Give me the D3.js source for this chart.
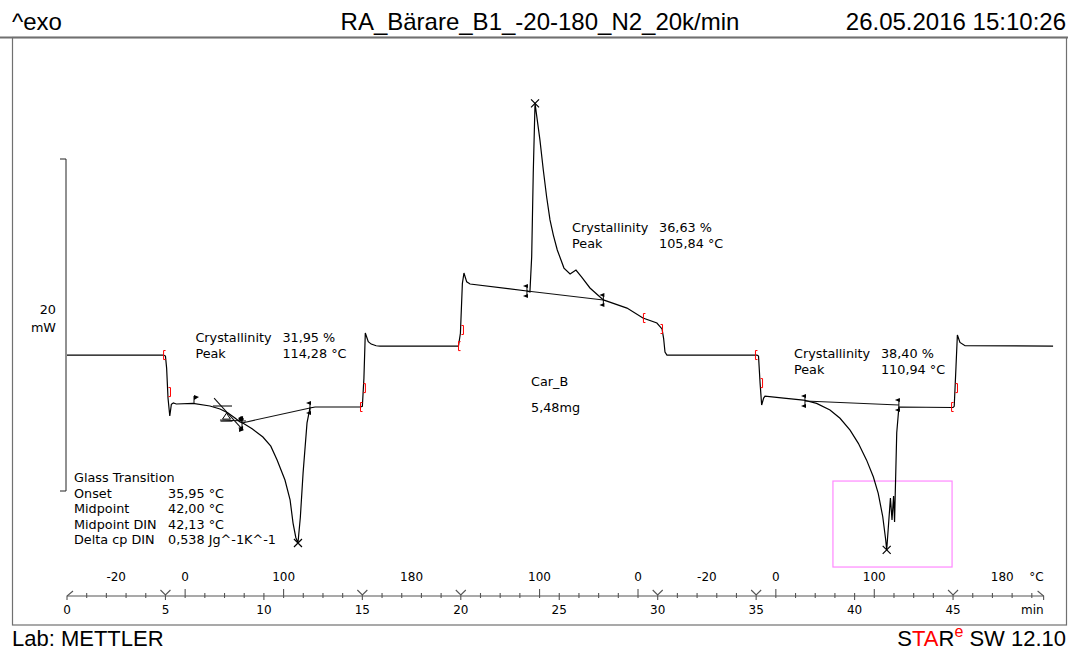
<!DOCTYPE html>
<html>
<head>
<meta charset="utf-8">
<script src="https://cdn.jsdelivr.net/npm/d3@7"></script>
<style>
  body { margin: 0; background: #fff; }
  svg text { font-family: "DejaVu Sans", Verdana, sans-serif; font-size: 12.8px; fill: #000; }
  svg text.axis { font-size: 12px; }
  svg text.big { font-family: "Liberation Sans", Arial, sans-serif; font-size: 24px; }
  svg text.foot { font-family: "Liberation Sans", Arial, sans-serif; font-size: 22px; }
</style>
</head>
<body>
<div class="chart"></div>
<script>
// DSC curve: time (min) vs heat flow (mW), exo up
var timeMin = [0, 4.90, 5.00, 5.06, 5.13, 5.22, 5.30, 5.40, 5.55, 6.40, 7.26, 7.77, 8.18, 8.53, 8.79, 8.95,
  9.40, 9.95, 10.35, 10.67, 11.07, 11.33, 11.48, 11.62, 11.73, 11.85, 11.99, 12.19, 12.34, 12.60, 14.90,
  15.00, 15.08, 15.15, 15.30, 15.45, 15.70, 15.90, 19.88, 19.98, 20.08, 20.16, 20.30, 20.47, 23.36, 23.51,
  23.60, 23.68, 23.77, 24.02, 24.19, 24.36, 24.53, 24.70, 24.90, 25.24, 25.55, 25.85, 26.14, 26.56, 27.24,
  28.44, 29.25, 29.96, 30.22, 30.30, 30.37, 30.47, 35.04, 35.12, 35.20, 35.28, 35.38, 35.45, 36.40, 37.40,
  38.07, 38.75, 39.26, 39.77, 40.19, 40.61, 40.95, 41.20, 41.43, 41.58, 41.63, 41.82, 41.90, 41.98, 42.03,
  42.14, 42.25, 45.00, 45.06, 45.15, 45.22, 45.35, 45.61, 50.08];
var heatFlow = [0.19, 0.19, 0.13, -0.60, -2.40, -3.48, -2.78, -2.70, -2.76, -2.72, -2.88, -3.06, -3.30, -3.60, -3.84, -3.92,
  -4.25, -4.75, -5.30, -6.13, -7.34, -8.54, -9.93, -10.80, -11.13, -9.60, -6.92, -3.90, -3.00, -2.94, -2.94,
  -2.90, -1.20, 1.52, 1.00, 0.85, 0.75, 0.73, 0.73, 1.50, 4.50, 5.13, 4.60, 4.47, 4.05, 3.99,
  6.11, 11.16, 15.35, 13.14, 11.34, 9.71, 8.33, 7.42, 6.52, 5.43, 5.07, 5.31, 4.89, 4.23, 3.51,
  3.02, 2.42, 2.12, 1.76, 1.20, 0.37, 0.19, 0.19, 0.13, -1.50, -2.82, -2.40, -2.28, -2.40, -2.52,
  -2.72, -3.12, -3.62, -4.33, -5.13, -6.14, -7.14, -8.14, -9.55, -10.95, -11.55, -8.42, -9.75, -8.30, -9.86,
  -4.49, -2.94, -2.97, -2.90, -0.50, 1.40, 0.95, 0.75, 0.73];

// integration baselines [t1, v1, t2, v2]
var baselines = [
  [8.89, -3.90, 12.34, -3.00],
  [23.36, 4.05, 27.24, 3.51],
  [37.48, -2.58, 42.25, -2.82]
];
// peak markers
var peakT = [11.73, 23.77, 41.63];
var peakV = [-11.13, 15.35, -11.55];
// segment brackets (red)
var openT = [4.88, 14.88, 19.86, 29.25, 34.94, 44.90];
var openV = [0.19, -2.94, 0.73, 2.42, 0.19, -2.94];
var closeT = [5.23, 15.13, 20.11, 30.22, 35.30, 45.20];
var closeV = [-2.04, -1.80, 1.70, 1.76, -1.50, -1.80];
// glass transition tangents
var tangents = [
  [7.41, -2.88, 8.38, -2.88],
  [7.47, -2.40, 8.94, -4.33],
  [7.77, -3.72, 9.09, -3.78]
];

// axis labels
var minuteLabels = [0, 5, 10, 15, 20, 25, 30, 35, 40, 45];
var segmentEdges = [5, 15, 20, 30, 35, 45];
var tempTicks = [6, 11, 24, 29, 36, 41];
var tempLabelT = [2.5, 6, 11, 17.5, 24, 29, 32.5, 36, 41, 47.5];
var tempLabels = ["-20", "0", "100", "180", "100", "0", "-20", "0", "100", "180"];

// annotation texts
var crystT = [6.52, 25.65, 36.92];
var crystV = [1.0, 7.6, 0.0];
var crystValue = ["31,95 %", "36,63 %", "38,40 %"];
var peakValue = ["114,28 °C", "105,84 °C", "110,94 °C"];
var glassNames = ["Onset", "Midpoint", "Midpoint DIN", "Delta cp DIN"];
var glassValues = ["35,95 °C", "42,00 °C", "42,13 °C", "0,538 Jg^-1K^-1"];

var W = 1068, H = 652;
var svg = d3.select(".chart").append("svg").attr("width", W).attr("height", H);

var x = d3.scaleLinear().domain([0, 50]).range([67, 67 + 50 * 19.69]);
var y = d3.scaleLinear().domain([-8, 12]).range([491, 159]);

// header
svg.append("text").attr("class", "big").attr("x", 12).attr("y", 30).text("^exo");
svg.append("text").attr("class", "big").attr("x", 540).attr("y", 30)
  .style("text-anchor", "middle").text("RA_Bärare_B1_-20-180_N2_20k/min");
svg.append("text").attr("class", "big").attr("x", 1066).attr("y", 30)
  .style("text-anchor", "end").text("26.05.2016 15:10:26");

// frame
svg.append("rect").attr("x", 12.5).attr("y", 37.5).attr("width", 1054).attr("height", 587.5)
  .attr("fill", "none").attr("stroke", "#707070").attr("stroke-width", 1.2);
svg.append("line").attr("x1", 0).attr("x2", W).attr("y1", 37.5).attr("y2", 37.5)
  .attr("stroke", "#707070").attr("stroke-width", 2);

// footer
svg.append("text").attr("class", "foot").attr("x", 12).attr("y", 646).text("Lab: METTLER");
var star = svg.append("text").attr("class", "foot").attr("x", 1066).attr("y", 646).style("text-anchor", "end");
star.append("tspan").text("S");
star.append("tspan").style("fill", "#ff0000").text("TA");
star.append("tspan").text("R");
star.append("tspan").style("fill", "#ff0000").style("font-size", "16px").attr("dy", -9).text("e");
star.append("tspan").attr("dy", 9).text(" SW 12.10");

// scale bar 20 mW
var bar = svg.append("g").attr("stroke", "#222").attr("fill", "none");
bar.append("path").attr("d", "M60," + y(12) + "H66V" + y(-8) + "H60");
svg.append("text").attr("x", 56).attr("y", 314).style("text-anchor", "end").text("20");
svg.append("text").attr("x", 56).attr("y", 332).style("text-anchor", "end").text("mW");

// zoom box
svg.append("rect")
  .attr("x", x(38.90)).attr("y", y(-7.4))
  .attr("width", x(44.95) - x(38.90)).attr("height", y(-12.58) - y(-7.4))
  .attr("fill", "none").attr("stroke", "#ff88ff").attr("stroke-width", 1.2);

// baselines and tangents
svg.selectAll(".base").data(baselines.concat(tangents)).enter().append("line")
  .attr("x1", function(d) { return x(d[0]); })
  .attr("y1", function(d) { return y(d[1]); })
  .attr("x2", function(d) { return x(d[2]); })
  .attr("y2", function(d) { return y(d[3]); })
  .attr("stroke", "#111").attr("stroke-width", 1.1);

// curve
var pts = timeMin.map(function(t, i) { return [t, heatFlow[i]]; });
var line = d3.line().x(function(d) { return x(d[0]); }).y(function(d) { return y(d[1]); });
svg.append("path").datum(pts).attr("d", line)
  .attr("fill", "none").attr("stroke", "#000").attr("stroke-width", 1.2);

// limit markers on baselines
var limits = [];
baselines.forEach(function(b) { limits.push([b[0], b[1]]); limits.push([b[2], b[3]]); });
var lim = svg.selectAll(".lim").data(limits).enter().append("g")
  .attr("transform", function(d) { return "translate(" + x(d[0]) + "," + y(d[1]) + ")"; });
lim.append("line").attr("y1", -6).attr("y2", 6).attr("stroke", "#000");
lim.append("path").attr("d", "M1,-7L-4,-5L1,-3Z").attr("fill", "#000");
lim.append("path").attr("d", "M1,3L-4,5L1,7Z").attr("fill", "#000");

// glass transition markers
var gStart = svg.append("g").attr("transform", "translate(" + x(6.45) + "," + y(-2.64) + ")");
gStart.append("line").attr("y1", -6).attr("y2", 2).attr("stroke", "#000");
gStart.append("path").attr("d", "M0,-7L5,-5L0,-2Z").attr("fill", "#000");
var gEnd = svg.append("g").attr("transform", "translate(" + x(8.84) + "," + y(-3.72) + ")");
gEnd.append("path").attr("d", "M0,-4L3,-1L0,2L-3,-1Z").attr("fill", "#000");
gEnd.append("path").attr("d", "M-2,8L3,10L-2,12Z").attr("fill", "#000");
var gMid = svg.append("g").attr("transform", "translate(" + x(8.10) + "," + y(-3.55) + ")")
  .attr("stroke", "#000").attr("fill", "none");
gMid.append("path").attr("d", "M-4,2L0,-4L4,2Z");
gMid.append("line").attr("x1", -6).attr("x2", 6).attr("y1", 4).attr("y2", 4);

// peak crosses
svg.selectAll(".peak").data(peakT).enter().append("path")
  .attr("transform", function(d, i) { return "translate(" + x(d) + "," + y(peakV[i]) + ")"; })
  .attr("d", "M-4,-4L4,4M-4,4L4,-4").attr("stroke", "#000").attr("stroke-width", 1.2);

// red brackets
svg.selectAll(".open").data(openT).enter().append("path")
  .attr("transform", function(d, i) { return "translate(" + x(d) + "," + y(openV[i]) + ")"; })
  .attr("d", "M2.5,-4.5H0.5V4.5H2.5").attr("fill", "none").attr("stroke", "#ff0000");
svg.selectAll(".close").data(closeT).enter().append("path")
  .attr("transform", function(d, i) { return "translate(" + x(d) + "," + y(closeV[i]) + ")"; })
  .attr("d", "M-1.5,-4.5H0.5V4.5H-1.5").attr("fill", "none").attr("stroke", "#ff0000");

// crystallinity annotations
crystT.forEach(function(t, i) {
  var g = svg.append("g").attr("transform", "translate(" + x(t) + "," + y(crystV[i]) + ")");
  g.append("text").attr("x", 0).attr("y", 0).text("Crystallinity");
  g.append("text").attr("x", 87).attr("y", 0).text(crystValue[i]);
  g.append("text").attr("x", 0).attr("y", 16).text("Peak");
  g.append("text").attr("x", 87).attr("y", 16).text(peakValue[i]);
});

svg.append("text").attr("x", 531).attr("y", 386).text("Car_B");
svg.append("text").attr("x", 531).attr("y", 412).text("5,48mg");

// glass transition table
svg.append("text").attr("x", 74).attr("y", 482).text("Glass Transition");
glassNames.forEach(function(n, i) {
  svg.append("text").attr("x", 74).attr("y", 497.5 + i * 15.5).text(n);
  svg.append("text").attr("x", 168).attr("y", 497.5 + i * 15.5).text(glassValues[i]);
});

// time axis
var axisY = 596;
var ax = svg.append("g").attr("stroke", "#555").attr("fill", "none").attr("stroke-width", 1.1);
ax.append("line").attr("x1", x(0)).attr("x2", x(49.6)).attr("y1", axisY).attr("y2", axisY);
var minorT = d3.range(1, 50).filter(function(t) { return segmentEdges.indexOf(t) < 0; });
ax.selectAll(".minor").data(minorT).enter().append("line")
  .attr("x1", function(d) { return x(d); }).attr("x2", function(d) { return x(d); })
  .attr("y1", function(d) { return axisY - (tempTicks.indexOf(d) >= 0 ? 7 : 3); })
  .attr("y2", function(d) { return axisY + (d % 5 === 0 ? 4 : 2); });
ax.selectAll(".edge").data(segmentEdges).enter().append("path")
  .attr("transform", function(d) { return "translate(" + x(d) + "," + axisY + ")"; })
  .attr("d", "M-5,-6L0,-1L5,-6M0,-1V4");
ax.append("path").attr("transform", "translate(" + x(0) + "," + axisY + ")").attr("d", "M0,4V0L6,-5");
ax.append("path").attr("transform", "translate(" + x(49.6) + "," + axisY + ")").attr("d", "M0,4V0L-6,-5");

svg.selectAll(".mlab").data(minuteLabels).enter().append("text").attr("class", "axis")
  .attr("x", function(d) { return x(d); }).attr("y", 614)
  .style("text-anchor", "middle").text(function(d) { return d; });
svg.append("text").attr("class", "axis").attr("x", x(49.6)).attr("y", 614).style("text-anchor", "end").text("min");
svg.selectAll(".tlab").data(tempLabelT).enter().append("text").attr("class", "axis")
  .attr("x", function(d) { return x(d); }).attr("y", 581)
  .style("text-anchor", "middle").text(function(d, i) { return tempLabels[i]; });
svg.append("text").attr("class", "axis").attr("x", x(49.6)).attr("y", 581).style("text-anchor", "end").text("°C");
</script>
</body>
</html>
